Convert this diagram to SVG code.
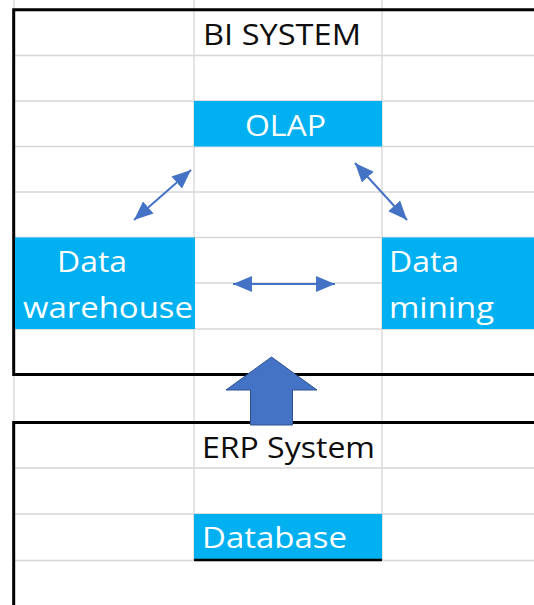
<svg xmlns="http://www.w3.org/2000/svg" width="534" height="605" viewBox="0 0 534 605">
  <style>
    .grid { stroke: #D6D6D6; stroke-width: 1.3; fill: none; }
    .frame { stroke: #000000; fill: none; }
    .cell { fill: #00B0F0; }
    .lbl { font-family: "Open Sans", "Noto Sans", "Liberation Sans", sans-serif; font-size: 30px; }
    .dark { fill: #0D0D0D; }
    .light { fill: #FFFFFF; }
    .conn { stroke: #4472C4; stroke-width: 2; fill: none; marker-start: url(#head); marker-end: url(#head); }
  </style>
  <defs>
    <marker id="head" viewBox="0 0 19 16" refX="19" refY="8" markerWidth="19" markerHeight="16" markerUnits="userSpaceOnUse" orient="auto-start-reverse">
      <path d="M0,0 L19,8 L0,16 z" fill="#4472C4"/>
    </marker>
  </defs>

  <rect x="0" y="0" width="534" height="605" fill="#FFFFFF"/>

  <!-- worksheet grid -->
  <g id="grid">
    <path class="grid" d="M14,0 V605 M194,0 V561 M382,0 V561"/>
    <path class="grid" d="M14,55.5 H534 M14,101 H534 M14,146.5 H534 M14,192 H534 M14,237.5 H534 M14,283 H534 M14,329 H534"/>
    <path class="grid" d="M14,468 H534 M14,514 H534 M14,560.5 H534"/>
  </g>

  <!-- outlined blocks -->
  <g id="bi-system">
    <path class="frame" stroke-width="3" d="M534,374.5 H13.7 V9.7 H534"/>
    <text class="lbl dark" x="203" y="45" textLength="158" lengthAdjust="spacingAndGlyphs">BI SYSTEM</text>
  </g>
  <g id="erp-system">
    <path class="frame" stroke-width="3" d="M13.7,605 V422.5 H534"/>
    <text class="lbl dark" x="202" y="458" textLength="173" lengthAdjust="spacingAndGlyphs">ERP System</text>
  </g>

  <!-- highlighted cells -->
  <g id="olap">
    <rect class="cell" x="194" y="101" width="188" height="45.5"/>
    <text class="lbl light" x="245" y="136" textLength="81" lengthAdjust="spacingAndGlyphs">OLAP</text>
  </g>
  <g id="data-warehouse">
    <rect class="cell" x="15" y="237.5" width="180" height="91.5"/>
    <text class="lbl light" x="57" y="272" textLength="70" lengthAdjust="spacingAndGlyphs">Data</text>
    <text class="lbl light" x="23" y="318" textLength="170" lengthAdjust="spacingAndGlyphs">warehouse</text>
  </g>
  <g id="data-mining">
    <rect class="cell" x="382" y="237.5" width="152" height="91.5"/>
    <text class="lbl light" x="389" y="272" textLength="70" lengthAdjust="spacingAndGlyphs">Data</text>
    <text class="lbl light" x="389" y="318" textLength="105" lengthAdjust="spacingAndGlyphs">mining</text>
  </g>
  <g id="database">
    <rect class="cell" x="194" y="514" width="188" height="46"/>
    <path class="frame" stroke-width="2.5" d="M194,560 H382"/>
    <text class="lbl light" x="202" y="548" textLength="145" lengthAdjust="spacingAndGlyphs">Database</text>
  </g>

  <!-- connectors -->
  <g id="connectors">
    <line class="conn" x1="134" y1="220" x2="191" y2="170"/>
    <line class="conn" x1="407" y1="220" x2="355" y2="163"/>
    <line class="conn" x1="233" y1="284" x2="335" y2="284"/>
    <path d="M271.5,357 L317,390 H292.5 V425 H250.5 V390 H226 Z" fill="#4472C4" stroke="#2F528F" stroke-width="1"/>
  </g>
</svg>
